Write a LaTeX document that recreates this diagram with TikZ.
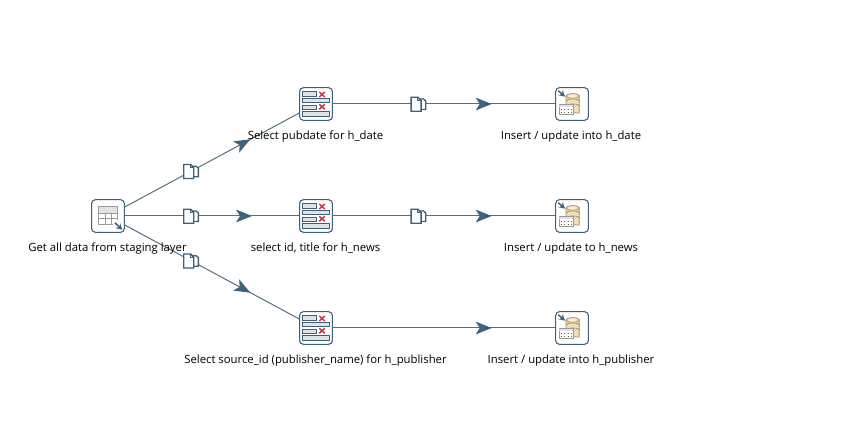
\documentclass[tikz,border=0pt]{standalone}
\usepackage{fontspec}
\setmainfont{Open Sans}
\usetikzlibrary{arrows.meta,decorations.markings}
\definecolor{hopcolor}{HTML}{52717F}
\definecolor{tipcolor}{HTML}{3F627C}
\definecolor{boxcolor}{HTML}{3F6075}
\definecolor{gridcolor}{HTML}{9A9A9A}
\definecolor{headcolor}{HTML}{DDE3E6}
\definecolor{dbcolor}{HTML}{F3DDB5}
\definecolor{dbline}{HTML}{A08A60}
\definecolor{crosscolor}{HTML}{D02A35}
\tikzset{
	stepbox/.style={draw=boxcolor, line width=.8pt, rounded corners=3pt, fill=white, minimum size=24.6pt, inner sep=0pt},
	steplabel/.style={font=\fontsize{8.5pt}{10pt}\selectfont, text=black, inner sep=0pt},
	hop/.style={draw=hopcolor, line width=.75pt, postaction={decorate}, decoration={markings, mark=at position #1 with {\arrow[tipcolor]{Stealth[length=12pt, width=9.5pt, inset=3pt]}}}},
	copyicon/.pic={
		\draw[boxcolor, line width=1pt, fill=white] (-1,-5) -- (5,-5) -- (7.3,-3) -- (7.3,5.5) -- (-1,5.5) -- cycle;
		\draw[boxcolor, line width=1pt, fill=white] (-7.3,-6.7) -- (-.5,-6.7) -- (2.7,-3.5) -- (2.7,7.3) -- (-7.3,7.3) -- cycle;
		\draw[boxcolor, line width=.7pt] (-.5,-6.7) -- (-.5,-3.5) -- (2.7,-3.5);
	},
	tableicon/.pic={
		\fill[headcolor] (-9.7,-9.3) rectangle (9.7,-3);
		\draw[gridcolor, line width=.7pt] (-9.7,-9.3) rectangle (9.7,8.3);
		\foreach \i in {-3,2.7}{
			\draw[gridcolor, line width=.6pt] (-9.7,\i) -- (9.7,\i);
		}
		\foreach \i in {-3,3.3}{
			\draw[gridcolor, line width=.6pt] (\i,-3) -- (\i,8.3);
		}
		\fill[white] (5,4.5) rectangle (11,11);
		\draw[tipcolor, line width=1.1pt, -{Stealth[length=4.5pt, width=5pt]}] (7,6.8) -- (14.2,13.8);
	},
	filtericon/.pic={
		\foreach \i in {-12.3,1}{
			\draw[boxcolor, line width=.6pt, fill=headcolor] (-13.3,\i) rectangle (.7,\i+4.3);
		}
		\foreach \i in {-5.7,7.7}{
			\draw[boxcolor, line width=.6pt, fill=headcolor] (-13.3,\i) rectangle (13.3,\i+4.3);
		}
		\foreach \i in {-12,.3}{
			\draw[crosscolor, line width=1.1pt] (3.3,\i) -- (8.7,\i+5);
			\draw[crosscolor, line width=1.1pt] (8.7,\i) -- (3.3,\i+5);
		}
	},
	dbicon/.pic={
		\draw[dbline, line width=.5pt, fill=dbcolor] (-6,-8) -- (-6,9) -- (7.3,9) -- (7.3,-8) arc[start angle=0, end angle=-180, x radius=6.65, y radius=2.2];
		\draw[dbline, line width=.5pt, fill=dbcolor!60!white] (0.65,-8) ellipse[x radius=6.65, y radius=2.2];
		\foreach \i in {-3,2}{
			\draw[dbline, line width=.5pt] (-6,\i) arc[start angle=-180, end angle=-360, x radius=6.65, y radius=-2];
		}
		\draw[gridcolor, line width=.5pt, fill=white] (-12.7,.7) rectangle (1,10.7);
		\fill[headcolor] (-12.7,.7) rectangle (1,3.5);
		\draw[black!65, line width=.7pt, dotted] (-11.5,5.2) -- (0,5.2);
		\draw[black!65, line width=.7pt, dotted] (-11.5,8.8) -- (0,8.8);
		\draw[tipcolor, line width=1.1pt, -{Stealth[length=4.5pt, width=5pt]}] (-13.7,-13.3) -- (-7,-7.3);
	}
}
\begin{document}
\begin{tikzpicture}[x=.75pt, y=-.75pt]
\useasboundingbox (0,0) rectangle (859,423);
\fill[white] (0,0) rectangle (859,423);

\node[stepbox] (getdata) at (108,216) {};
\node[stepbox] (seldate) at (316,104) {};
\node[stepbox] (selnews) at (316,216) {};
\node[stepbox] (selpub) at (316,328) {};
\node[stepbox] (insdate) at (572,104) {};
\node[stepbox] (insnews) at (572,216) {};
\node[stepbox] (inspub) at (572,328) {};

\pic at (getdata) {tableicon};
\foreach \n in {seldate,selnews,selpub}{
	\pic at (\n) {filtericon};
}
\foreach \n in {insdate,insnews,inspub}{
	\pic at (\n) {dbicon};
}

% hops
\draw[hop=.72] (getdata) -- pic[pos=.38]{copyicon} (seldate);
\draw[hop=.73] (getdata) -- pic[pos=.38]{copyicon} (selnews);
\draw[hop=.72] (getdata) -- pic[pos=.38]{copyicon} (selpub);
\draw[hop=.715] (seldate) -- pic[pos=.385]{copyicon} (insdate);
\draw[hop=.715] (selnews) -- pic[pos=.385]{copyicon} (insnews);
\draw[hop=.715] (selpub) -- (inspub);

\node[steplabel] (getdatalabel) at (107.5,248.5) {Get all data from staging layer};
\node[steplabel] (seldatelabel) at (315.5,136.5) {Select pubdate for h\_date};
\node[steplabel] (selnewslabel) at (315.5,248.5) {select id, title for h\_news};
\node[steplabel] (selpublabel) at (315.5,360.5) {Select source\_id (publisher\_name) for h\_publisher};
\node[steplabel] (insdatelabel) at (571,136.5) {Insert / update into h\_date};
\node[steplabel] (insnewslabel) at (571,248.5) {Insert / update to h\_news};
\node[steplabel] (inspublabel) at (571,360.5) {Insert / update into h\_publisher};
\end{tikzpicture}
\end{document}
